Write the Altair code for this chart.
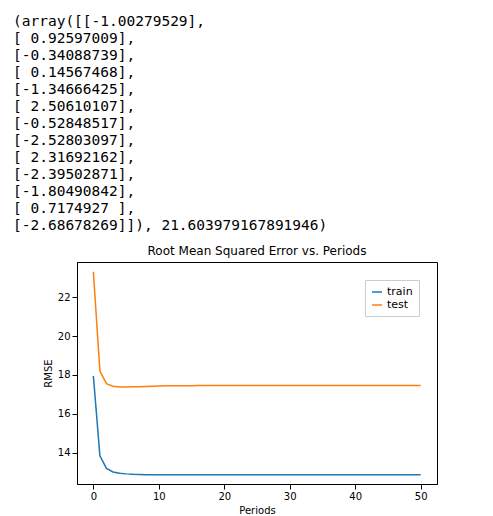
import altair as alt
import pandas as pd

# Printed output above the chart
text_lines = [
    "(array([[-1.00279529],",
    "       [ 0.92597009],",
    "       [-0.34088739],",
    "       [ 0.14567468],",
    "       [-1.34666425],",
    "       [ 2.50610107],",
    "       [-0.52848517],",
    "       [-2.52803097],",
    "       [ 2.31692162],",
    "       [-2.39502871],",
    "       [-1.80490842],",
    "       [ 0.7174927 ],",
    "       [-2.68678269]]), 21.603979167891946)",
]

periods = list(range(51))
train_rmse = [
    17.95, 13.85, 13.2, 13.02, 12.95, 12.92, 12.9, 12.89, 12.88, 12.88,
    12.87, 12.87, 12.87, 12.87, 12.87, 12.87, 12.87, 12.87, 12.87, 12.87,
    12.87, 12.87, 12.87, 12.87, 12.87, 12.87, 12.87, 12.87, 12.87, 12.87,
    12.87, 12.87, 12.87, 12.87, 12.87, 12.87, 12.87, 12.87, 12.87, 12.87,
    12.87, 12.87, 12.87, 12.87, 12.87, 12.87, 12.87, 12.87, 12.87, 12.87,
    12.87,
]
test_rmse = [
    23.3, 18.2, 17.55, 17.42, 17.38, 17.38, 17.39, 17.4, 17.41, 17.42,
    17.43, 17.44, 17.44, 17.45, 17.45, 17.45, 17.46, 17.46, 17.46, 17.46,
    17.46, 17.46, 17.46, 17.46, 17.46, 17.46, 17.46, 17.46, 17.46, 17.46,
    17.46, 17.46, 17.46, 17.46, 17.46, 17.46, 17.46, 17.46, 17.46, 17.46,
    17.46, 17.46, 17.46, 17.46, 17.46, 17.46, 17.46, 17.46, 17.46, 17.46,
    17.46,
]

# keep the leading spaces (SVG collapses ordinary ones)
shown = [s.replace(" ", "\u00a0") for s in text_lines]
text_df = pd.DataFrame({"i": range(len(shown)), "line": shown})
rmse_df = pd.concat(
    [
        pd.DataFrame({"period": periods, "rmse": train_rmse, "set": "train"}),
        pd.DataFrame({"period": periods, "rmse": test_rmse, "set": "test"}),
    ]
)

printed = (
    alt.Chart(text_df)
    .mark_text(
        align="left", font="DejaVu Sans Mono", fontSize=14.5, color="black", dx=-64
    )
    .encode(
        x=alt.value(0),
        y=alt.Y("i:O", axis=None, scale=alt.Scale(paddingInner=0, paddingOuter=0)),
        text="line:N",
    )
    .properties(width=360, height=221, view=alt.ViewBackground(stroke=None))
)

lines = (
    alt.Chart(rmse_df)
    .mark_line(strokeWidth=1.5)
    .encode(
        x=alt.X(
            "period:Q",
            title="Periods",
            scale=alt.Scale(domain=[-2.5, 52.5], nice=False, zero=False),
            axis=alt.Axis(values=[0, 10, 20, 30, 40, 50], grid=False),
        ),
        y=alt.Y(
            "rmse:Q",
            title="RMSE",
            scale=alt.Scale(domain=[12.4, 23.8], nice=False, zero=False),
            axis=alt.Axis(values=[14, 16, 18, 20, 22], grid=False),
        ),
        color=alt.Color(
            "set:N",
            scale=alt.Scale(domain=["train", "test"], range=["#1f77b4", "#ff7f0e"]),
            legend=alt.Legend(
                title=None,
                orient="top-right",
                symbolType="stroke",
                strokeColor="#cccccc",
                padding=6,
                fillColor="white",
                labelFontSize=11,
            ),
        ),
    )
    .properties(
        width=360,
        height=222,
        view=alt.ViewBackground(stroke="black"),
        title=alt.TitleParams(
            "Root Mean Squared Error vs. Periods", fontSize=12, fontWeight="normal"
        ),
    )
)

chart = (
    alt.vconcat(printed, lines, spacing=10)
    .resolve_legend(color="independent")
    .resolve_scale(color="independent")
    .configure(font="DejaVu Sans")
    .configure_axis(
        labelFontSize=10,
        titleFontSize=10,
        titleFontWeight="normal",
        domainColor="black",
        tickColor="black",
        labelColor="black",
        titleColor="black",
    )
)

chart.save("out.html", embed_options={"renderer": "svg", "actions": False})
